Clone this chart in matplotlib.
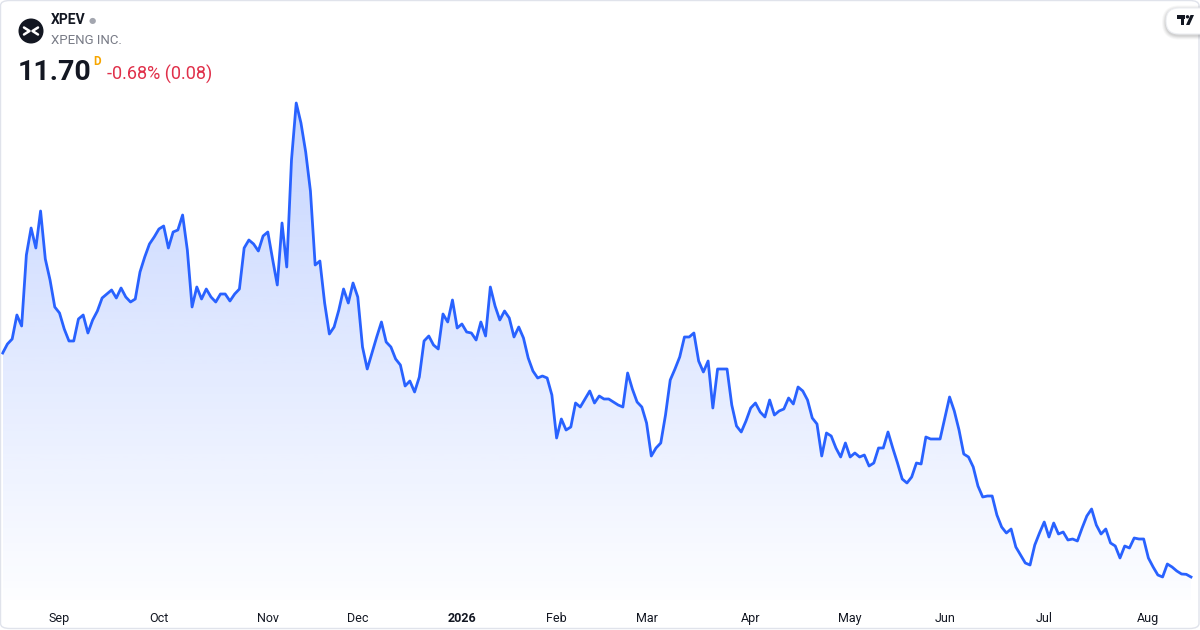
import numpy as np
import pandas as pd
import matplotlib
matplotlib.use("Agg")
import matplotlib.pyplot as plt
from matplotlib.patches import Circle, FancyBboxPatch, Polygon
from matplotlib.path import Path
from matplotlib.patches import PathPatch

plt.rcParams["font.family"] = ["Roboto", "DejaVu Sans"]

# daily closes, XPEV, Aug 14 2025 -> Aug 14 2026
closes = [
    18.42, 18.69, 18.84, 19.56, 19.23, 21.36, 22.17, 21.57, 22.68, 21.24,
    20.61, 19.80, 19.62, 19.14, 18.78, 18.78, 19.44, 19.56, 19.02, 19.41,
    19.68, 20.07, 20.19, 20.31, 20.07, 20.37, 20.10, 19.95, 20.04, 20.85,
    21.30, 21.69, 21.90, 22.14, 22.23, 21.57, 22.05, 22.11, 22.56, 21.51,
    19.80, 20.40, 20.04, 20.34, 20.10, 19.95, 20.19, 20.19, 19.98, 20.19,
    20.34, 21.57, 21.81, 21.69, 21.48, 21.93, 22.05, 21.24, 20.46, 22.32,
    21.00, 24.21, 25.92, 25.32, 24.45, 23.28, 21.06, 21.18, 19.92, 18.99,
    19.20, 19.71, 20.34, 19.92, 20.52, 20.10, 18.60, 17.94, 18.42, 18.90,
    19.35, 18.75, 18.60, 18.24, 18.06, 17.43, 17.58, 17.25, 17.70, 18.78,
    18.93, 18.66, 18.54, 19.59, 19.35, 20.01, 19.17, 19.29, 19.05, 19.02,
    18.81, 19.35, 18.93, 20.40, 19.83, 19.41, 19.68, 19.47, 18.90, 19.20,
    18.87, 18.27, 17.88, 17.67, 17.73, 17.67, 17.16, 15.87, 16.44, 16.11,
    16.20, 16.92, 16.80, 17.04, 17.28, 16.92, 17.13, 17.04, 17.04, 16.95,
    16.86, 16.80, 17.82, 17.34, 16.95, 16.80, 16.32, 15.33, 15.57, 15.72,
    16.56, 17.61, 17.94, 18.30, 18.90, 18.90, 19.02, 18.18, 17.85, 18.18,
    16.77, 17.94, 17.94, 17.94, 16.86, 16.23, 16.05, 16.38, 16.77, 16.92,
    16.65, 16.50, 17.01, 16.56, 16.68, 16.74, 17.07, 16.89, 17.40, 17.28,
    17.01, 16.47, 16.29, 15.33, 16.02, 15.93, 15.57, 15.30, 15.72, 15.30,
    15.42, 15.30, 15.36, 15.03, 15.12, 15.57, 15.57, 16.05, 15.57, 15.12,
    14.64, 14.52, 14.70, 15.12, 15.09, 15.90, 15.84, 15.84, 15.84, 16.47,
    17.10, 16.68, 16.11, 15.39, 15.30, 15.00, 14.43, 14.10, 14.13, 14.13,
    13.56, 13.20, 13.02, 13.14, 12.60, 12.36, 12.12, 12.06, 12.66, 13.02,
    13.35, 12.90, 13.32, 12.99, 13.05, 12.81, 12.84, 12.78, 13.17, 13.53,
    13.74, 13.26, 12.99, 13.14, 12.72, 12.63, 12.27, 12.63, 12.57, 12.87,
    12.84, 12.84, 12.27, 12.00, 11.76, 11.70, 12.09, 12.00, 11.88, 11.79,
    11.78, 11.70,
]

# exchange holidays inside the range
holidays = [
    "2025-09-01", "2025-11-27", "2025-12-25", "2026-01-01", "2026-01-19",
    "2026-02-16", "2026-04-03", "2026-05-25", "2026-06-19", "2026-07-03",
]
dates = pd.bdate_range("2025-08-14", periods=len(closes), freq="C", holidays=holidays)

ticker = "XPEV"
company = "XPENG INC."
last_price = "11.70"
change_text = "-0.68% (0.08)"

W, H = 1200, 630
fig = plt.figure(figsize=(W / 100, H / 100), dpi=100)
fig.patch.set_facecolor("white")


def px(x, y):
    return (x / W, 1 - y / H)


ax = fig.add_axes([0, 30 / H, 1, 600 / H])
ax.set_facecolor("none")

x = np.arange(len(closes))
y = np.array(closes)
line_color = "#2962FF"
ybot = 11.01

ax.set_xlim(-0.57, len(closes) - 1 + 1.9)
ax.set_ylim(ybot, 29.01)

# gradient fill under the line
verts = [(x[0], ybot)] + list(zip(x, y)) + [(x[-1], ybot)]
clip = PathPatch(Path(verts), facecolor="none", edgecolor="none")
ax.add_patch(clip)
grad = np.zeros((256, 1, 4))
grad[:, 0, 0] = 41 / 255
grad[:, 0, 1] = 98 / 255
grad[:, 0, 2] = 1.0
grad[:, 0, 3] = np.linspace(0.27, 0.01, 256)
im = ax.imshow(grad, aspect="auto", origin="upper",
               extent=[x[0], x[-1], ybot, y.max()], zorder=1)
im.set_clip_path(clip)

ax.plot(x, y, color=line_color, lw=2, zorder=3, solid_joinstyle="round")

# month ticks at first trading day of each month
month_pos = [i for i in range(1, len(dates)) if dates[i].month != dates[i - 1].month]
month_lab = [str(dates[i].year) if dates[i].month == 1 else dates[i].strftime("%b")
             for i in month_pos]
ax.set_xticks(month_pos)
ax.set_xticklabels(month_lab)
for t in ax.get_xticklabels():
    t.set_fontsize(9)
    t.set_color("#131722")
    if t.get_text().isdigit():
        t.set_fontweight("bold")
ax.tick_params(axis="x", length=0, pad=8.5)
ax.set_yticks([])
for s in ax.spines.values():
    s.set_visible(False)

# header logo
logo_ax = fig.add_axes([18 / W, 1 - 44 / H, 26 / W, 26 / H])
logo_ax.set_xlim(0, 26)
logo_ax.set_ylim(26, 0)
logo_ax.axis("off")
logo_ax.add_patch(Circle((13, 13), 12.5, facecolor="#131722", edgecolor="none"))
logo_ax.plot([6, 11.5, 6], [9.5, 13, 16.5], color="white", lw=1.8, solid_capstyle="round")
logo_ax.plot([20, 14.5, 20], [9.5, 13, 16.5], color="white", lw=1.8, solid_capstyle="round")

fig.text(*px(51, 20), ticker, fontsize=10, fontweight="bold", color="#131722", va="center")
fig.text(*px(92, 20.5), "\u25CF", fontsize=6, color="#a3a6af", ha="center", va="center")
fig.text(*px(51, 40), company, fontsize=9.5, color="#787b86", va="center")
fig.text(*px(18, 72), last_price, fontsize=20.5, fontweight="bold", color="#131722", va="center")
fig.text(*px(93, 61.5), "D", fontsize=8.5, fontweight="bold", color="#f7a600", va="center")
fig.text(*px(107, 74), change_text, fontsize=13, color="#e0304a", va="center")

# tradingview badge top right (pill with soft shadow), drawn in pixel units
badge = fig.add_axes([1150 / W, 1 - 44 / H, 50 / W, 44 / H])
badge.set_zorder(20)
badge.set_xlim(1150, 1200)
badge.set_ylim(44, 0)
badge.axis("off")
for k, a in [(4, 0.03), (3, 0.04), (2, 0.05), (1, 0.06)]:
    badge.add_patch(FancyBboxPatch((1166 - k, 8 - k + 1.5), 60 + 2 * k, 26 + 2 * k,
                                   boxstyle="round,pad=0,rounding_size=%g" % (13 + k),
                                   facecolor="black", edgecolor="none", alpha=a))
badge.add_patch(FancyBboxPatch((1166, 8), 60, 26,
                               boxstyle="round,pad=0,rounding_size=13",
                               facecolor="white", edgecolor="#eceef2", lw=0.8))
badge.add_patch(Polygon([(1177, 15), (1185, 15), (1185, 18.5), (1183.8, 18.5), (1183.8, 25),
                         (1180.8, 25), (1180.8, 18.5), (1177, 18.5)], closed=True,
                        facecolor="#131722", edgecolor="none"))
badge.add_patch(Circle((1187.5, 16.8), 1.7, facecolor="#131722", edgecolor="none"))
badge.add_patch(Polygon([(1190.5, 15), (1194, 15), (1189.5, 25), (1186, 25)], closed=True,
                        facecolor="#131722", edgecolor="none"))

# outer frame
fig.patches.append(FancyBboxPatch(px(0.5, 628.5), 1198.5 / W, 628 / H,
                                  boxstyle="round,pad=0,rounding_size=0.008",
                                  transform=fig.transFigure, facecolor="none",
                                  edgecolor="#e0e3eb", lw=1, zorder=10))

fig.savefig("out.png", dpi=100)
